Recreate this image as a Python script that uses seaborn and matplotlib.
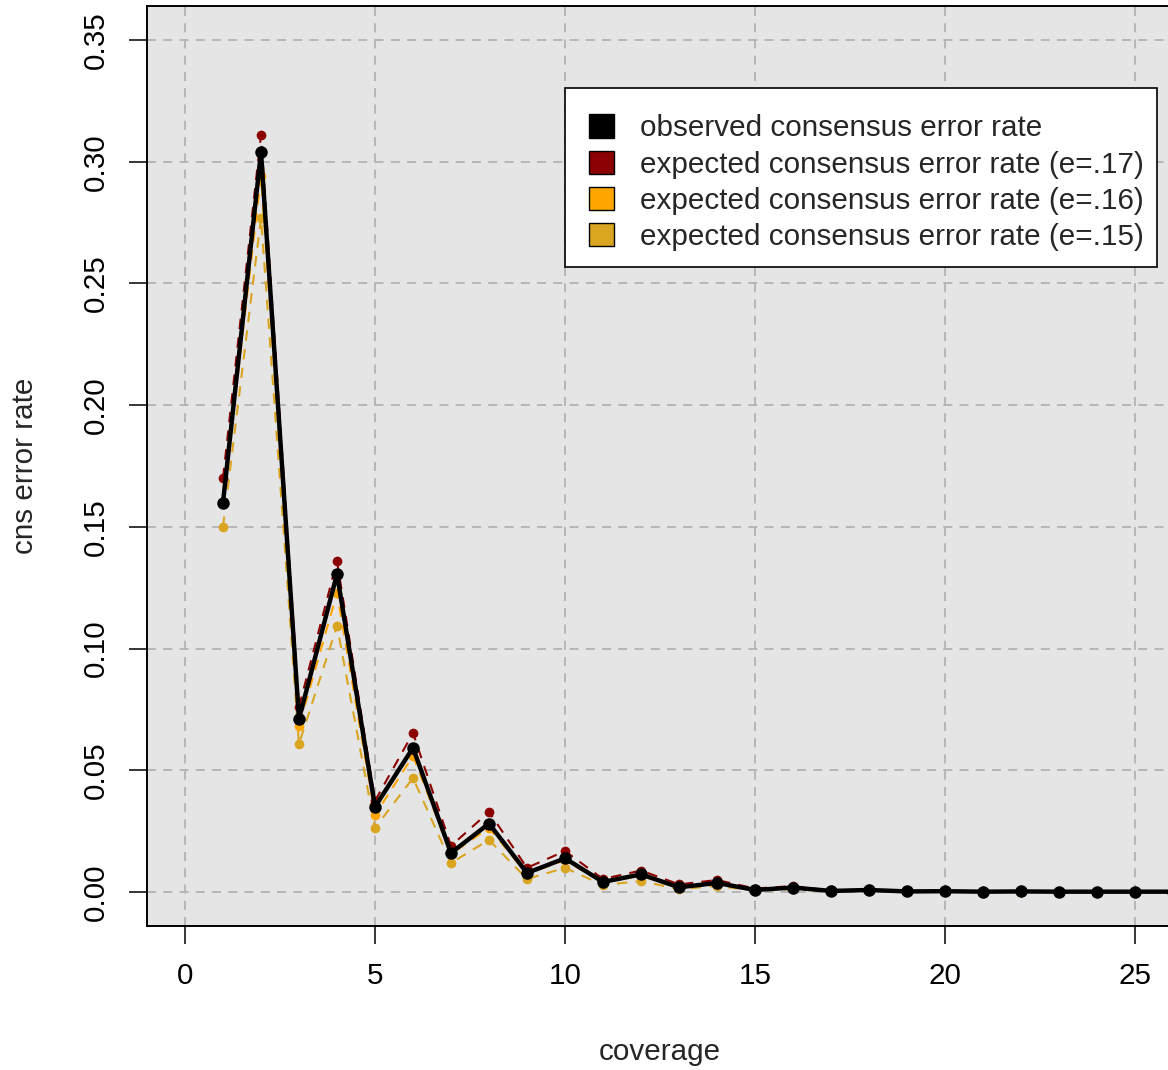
import matplotlib
matplotlib.use("Agg")
import matplotlib.pyplot as plt
import seaborn as sns
import pandas as pd
from matplotlib.patches import Patch, Rectangle

coverage = list(range(1, 27))
observed = [0.160, 0.304, 0.0711, 0.1306, 0.0350, 0.0592, 0.0160, 0.0281, 0.0078, 0.0138,
            0.0041, 0.0072, 0.0019, 0.0037, 0.0008, 0.0018, 0.0004, 0.0008, 0.0002, 0.0003,
            0.0001, 0.0002, 0.0001, 0.0001, 0.0001, 0.0001]
exp_e17 = [0.170, 0.311, 0.0760, 0.1360, 0.0374, 0.0653, 0.0189, 0.0329, 0.0099, 0.0168,
           0.0053, 0.0088, 0.0031, 0.0049, 0.0014, 0.0024, 0.0006, 0.0010, 0.0003, 0.0004,
           0.0002, 0.0002, 0.0001, 0.0001, 0.0001, 0.0001]
exp_e16 = [0.160, 0.294, 0.0682, 0.1228, 0.0316, 0.0559, 0.0156, 0.0263, 0.0075, 0.0130,
           0.0040, 0.0068, 0.0018, 0.0035, 0.0008, 0.0016, 0.0004, 0.0007, 0.0002, 0.0003,
           0.0001, 0.0001, 0.0001, 0.0001, 0.0001, 0.0001]
exp_e15 = [0.150, 0.277, 0.0608, 0.1093, 0.0263, 0.0468, 0.0119, 0.0214, 0.0053, 0.0099,
           0.0028, 0.0045, 0.0011, 0.0025, 0.0005, 0.0011, 0.0002, 0.0004, 0.0001, 0.0002,
           0.0001, 0.0001, 0.0000, 0.0000, 0.0000, 0.0000]

legend_labels = ["observed consensus error rate",
                 "expected consensus error rate (e=.17)",
                 "expected consensus error rate (e=.16)",
                 "expected consensus error rate (e=.15)"]
colors = ["black", "#8B0000", "#FFA500", "#DAA520"]
x_ticks = [0, 5, 10, 15, 20, 25]
y_ticks = [0.00, 0.05, 0.10, 0.15, 0.20, 0.25, 0.30, 0.35]

sns.set_style("white")
plt.rcParams['font.family'] = ['Liberation Sans', 'DejaVu Sans']

FS = 21.3
W, H = 1168, 1070
fig = plt.figure(figsize=(W / 100, H / 100), dpi=100)
ax = fig.add_axes([147 / W, 1 - 926 / H, (1173 - 147) / W, (926 - 6) / H])
ax.set_facecolor("#E5E5E5")

df = pd.DataFrame({"coverage": coverage, "obs": observed, "e17": exp_e17,
                   "e16": exp_e16, "e15": exp_e15})

for col, c in [("e15", colors[3]), ("e16", colors[2]), ("e17", colors[1])]:
    sns.lineplot(data=df, x="coverage", y=col, ax=ax, color=c, linewidth=1.5,
                 linestyle=(0, (5, 4)), marker="o", markersize=7,
                 markeredgewidth=0, markerfacecolor=c, zorder=3)
sns.lineplot(data=df, x="coverage", y="obs", ax=ax, color="black", linewidth=3.2,
             marker="o", markersize=9, markeredgewidth=0, markerfacecolor="black", zorder=4)

ax.set_xlim(-1, 26)
ax.set_ylim(-0.014, 0.364)
ax.set_xticks(x_ticks)
ax.set_yticks(y_ticks)
ax.set_xticklabels([str(v) for v in x_ticks])
ax.set_yticklabels([f"{v:.2f}" for v in y_ticks])
ax.grid(True, color="#B3B3B3", linestyle=(0, (5, 4)), linewidth=1.3, zorder=0)
ax.set_axisbelow(True)
for s in ax.spines.values():
    s.set_color("black")
    s.set_linewidth(1.4)
ax.tick_params(axis="both", direction="out", length=13, width=1.1, colors="black",
               labelsize=FS, left=True, bottom=True)
ax.tick_params(axis="x", pad=13)
ax.tick_params(axis="y", pad=14)
plt.setp(ax.get_yticklabels(), rotation=90, va="center")
ax.set_xlabel("")
ax.set_ylabel("")

fig.text(660 / W, 1 - 1052 / H, "coverage", ha="center", va="center", fontsize=FS)
fig.text(25 / W, 1 - 466 / H, "cns error rate", ha="center", va="center",
         rotation=90, fontsize=FS)

# legend frame drawn as a rectangle in figure pixels
frame = Rectangle((565 / W, 1 - 267 / H), (1157 - 565) / W, (267 - 88) / H,
                  transform=fig.transFigure, facecolor="white", edgecolor="black",
                  linewidth=1.2, zorder=9)
fig.patches.append(frame)

handles = [Patch(facecolor=c, edgecolor="black", linewidth=1) for c in colors]
leg = fig.legend(handles, legend_labels, loc="upper left",
                 bbox_to_anchor=(565 / W, 1 - 90 / H), bbox_transform=fig.transFigure,
                 fontsize=FS, frameon=False, handlelength=0.82,
                 handleheight=0.82, handletextpad=0.88, labelspacing=0.28,
                 borderpad=0.82, borderaxespad=0)
leg.set_zorder(10)

fig.savefig("out.png", dpi=100)
